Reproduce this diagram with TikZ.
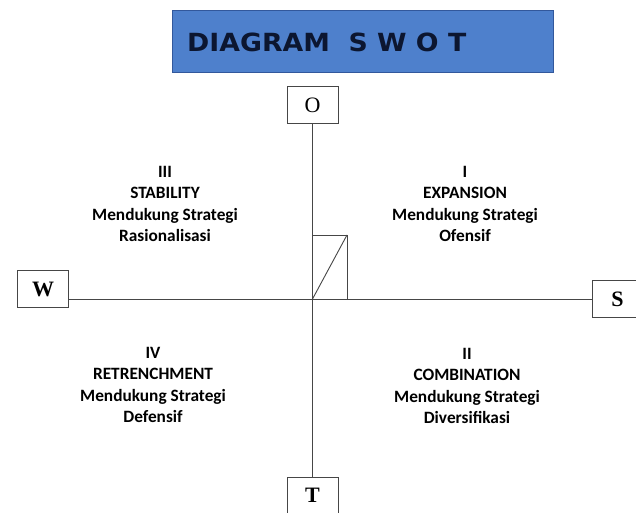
\documentclass[tikz,border=0pt]{standalone}
\usepackage{fontspec}
\setmainfont{Liberation Serif}
\newfontfamily\quadfont{Carlito}
\newfontfamily\titlefont{DejaVu Sans}
\usetikzlibrary{positioning}
\definecolor{TitleBlue}{RGB}{78,128,204}
\definecolor{TitleEdge}{RGB}{50,88,156}
\definecolor{TitleInk}{RGB}{12,22,48}
\definecolor{AxisGray}{RGB}{70,70,70}

\begin{document}
\begin{tikzpicture}[x=1pt, y=-1pt,
    letterbox/.style={draw=AxisGray, line width=0.9pt, fill=white, minimum width=51pt, minimum height=37pt, inner sep=0pt, font=\fontsize{22}{22}\selectfont},
    quadtext/.style={align=center, inner sep=0pt, font=\quadfont\bfseries\fontsize{17.3}{21.5}\selectfont},
    axis/.style={draw=AxisGray, line width=0.9pt}]

    \useasboundingbox (0,0) rectangle (636,513);
    \fill[white] (0,0) rectangle (636,513);

    % title bar
    \node[draw=TitleEdge, fill=TitleBlue, line width=1pt, minimum width=381pt, minimum height=62pt, anchor=north west] (title) at (172,10) {};
    \node[anchor=west, inner sep=0pt, xscale=1.07, transform shape, text=TitleInk, font=\titlefont\bfseries\fontsize{25}{25}\selectfont] (titletext) at (187,42) {DIAGRAM\ \ S W O T};

    % the four ends
    \node[letterbox] (O) at (312.5,105) {O};
    \node[letterbox] (W) at (43,289) {\textbf{W}};
    \node[letterbox] (S) at (617.5,299) {\textbf{S}};
    \node[letterbox] (T) at (312.5,495.5) {\textbf{T}};

    \draw[axis] (O) -- (T);
    \draw[axis] (W.east |- S.west) -- (S.west);

    % small box at the centre
    \coordinate (origin) at (312.5,299);
    \coordinate (sqtl) at (312.5,235);
    \coordinate (sqtr) at (347,235);
    \coordinate (sqbr) at (347,299);
    \draw[axis] (sqtl) -- (sqtr) -- (sqbr);
    \draw[axis] (origin) -- (sqtr);

    % quadrants
    \node[quadtext] (q3) at (165,204) {III\\STABILITY\\Mendukung Strategi\\Rasionalisasi};
    \node[quadtext] (q1) at (465,204) {I\\EXPANSION\\Mendukung Strategi\\Ofensif};
    \node[quadtext] (q4) at (153,385) {IV\\RETRENCHMENT\\Mendukung Strategi\\Defensif};
    \node[quadtext] (q2) at (467,386) {II\\COMBINATION\\Mendukung Strategi\\Diversifikasi};
\end{tikzpicture}
\end{document}
